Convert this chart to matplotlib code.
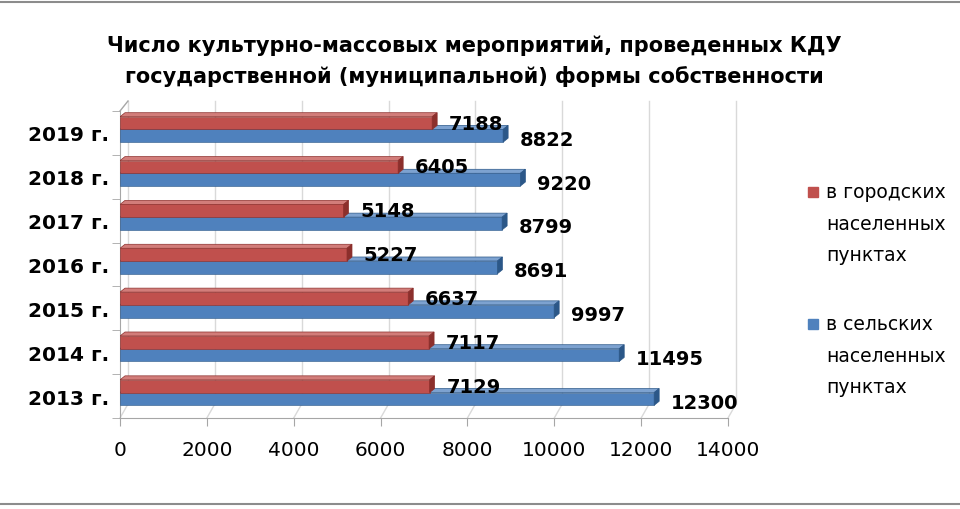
import matplotlib
matplotlib.use("Agg")
import matplotlib.pyplot as plt
from matplotlib.patches import Polygon
from matplotlib.lines import Line2D
import numpy as np

plt.rcParams['font.family'] = ['DejaVu Sans']

years = ["2013 г.", "2014 г.", "2015 г.", "2016 г.", "2017 г.", "2018 г.", "2019 г."]
urban = [7129, 7117, 6637, 5227, 5148, 6405, 7188]
rural = [12300, 11495, 9997, 8691, 8799, 9220, 8822]
xticks = [0, 2000, 4000, 6000, 8000, 10000, 12000, 14000]
title = "Число культурно-массовых мероприятий, проведенных КДУ\nгосударственной (муниципальной) формы собственности"
legend_labels = ["в городских\nнаселенных\nпунктах", "в сельских\nнаселенных\nпунктах"]

red, red_side, red_top = "#C0504D", "#8C2F2C", "#D27D7A"
blue, blue_side, blue_top = "#4F81BD", "#2B5788", "#7DA2D0"
grid_c = "#D9D9D9"
axis_c = "#A6A6A6"

fig = plt.figure(figsize=(9.6, 5.1), dpi=100)
ax = fig.add_axes([120/960, 1-419/510, 608/960, 307/510])
ax.set_xlim(0, 14000)
ax.set_ylim(-0.5, 6.5)

px_x = 14000/608
px_y = 7/307

gdx, gdy = 8*px_x, 14*px_y
top_y = 6.5 + 10*px_y
for t in xticks:
    ax.add_line(Line2D([t+gdx, t+gdx], [-0.5+gdy, top_y], color=grid_c, lw=1, clip_on=False, zorder=0))
    ax.add_line(Line2D([t, t+gdx], [-0.5, -0.5+gdy], color=grid_c, lw=1, clip_on=False, zorder=0))
ax.add_line(Line2D([0, gdx], [6.5, top_y], color=axis_c, lw=1, clip_on=False, zorder=0))

h = 0.29
base_off = 0.08
bdx, bdy = 5*px_x, 4*px_y
for i in range(len(years)):
    for vals, col, side, topc, sign in [(rural, blue, blue_side, blue_top, -1), (urban, red, red_side, red_top, 1)]:
        v = vals[i]
        yc = i + base_off + sign*h/2
        y0, y1 = yc - h/2, yc + h/2
        ax.add_patch(Polygon([(0, y1), (v, y1), (v+bdx, y1+bdy), (bdx, y1+bdy)], closed=True,
                             facecolor=topc, edgecolor=side, lw=0.5, zorder=3))
        ax.barh(yc, v, height=h, color=col, edgecolor=side, lw=0.4, zorder=3)
        ax.add_patch(Polygon([(v, y0), (v, y1), (v+bdx, y1+bdy), (v+bdx, y0+bdy)], closed=True,
                             facecolor=side, edgecolor=side, lw=0.5, zorder=3))
        ax.annotate(str(v), (v, yc), xytext=(12, 0 if sign > 0 else -2.5), textcoords="offset points",
                    ha="left", va="center", fontsize=14, fontweight="bold", color="black", zorder=5)

for s in ["top", "right"]:
    ax.spines[s].set_visible(False)
for s in ["left", "bottom"]:
    ax.spines[s].set_color(axis_c)
ax.set_xticks(xticks)
ax.set_xticklabels([str(t) for t in xticks], fontsize=14.5)
ax.tick_params(axis="x", direction="out", length=6, color=axis_c, pad=10)
ax.set_yticks(range(len(years)))
ax.set_yticklabels(years, fontsize=14.5, fontweight="bold")
ax.tick_params(axis="y", length=0, pad=8)
ax.set_yticks(np.arange(-0.5, 6.6, 1), minor=True)
ax.tick_params(axis="y", which="minor", direction="out", length=6, color=axis_c)

fig.text(474/960, 1-61/510, title, ha="center", va="center", fontsize=15, fontweight="bold",
         linespacing=1.6)

for k, (lab, col) in enumerate(zip(legend_labels, [red, blue])):
    yt = 1 - (193 + k*132)/510
    fig.patches.append(plt.Rectangle((808/960, yt - 5/510), 10/960, 10/510, transform=fig.transFigure,
                                     facecolor=col, edgecolor=col, figure=fig))
    fig.text(826/960, yt + 10/510, lab, ha="left", va="top", fontsize=13.5, linespacing=1.85)

fig.add_artist(Line2D([0, 1], [1-3/510, 1-3/510], color="#8C8C8C", lw=1.5, transform=fig.transFigure))
fig.add_artist(Line2D([0, 1], [1-505/510, 1-505/510], color="#8C8C8C", lw=1.5, transform=fig.transFigure))

fig.savefig("out.png", dpi=100)
